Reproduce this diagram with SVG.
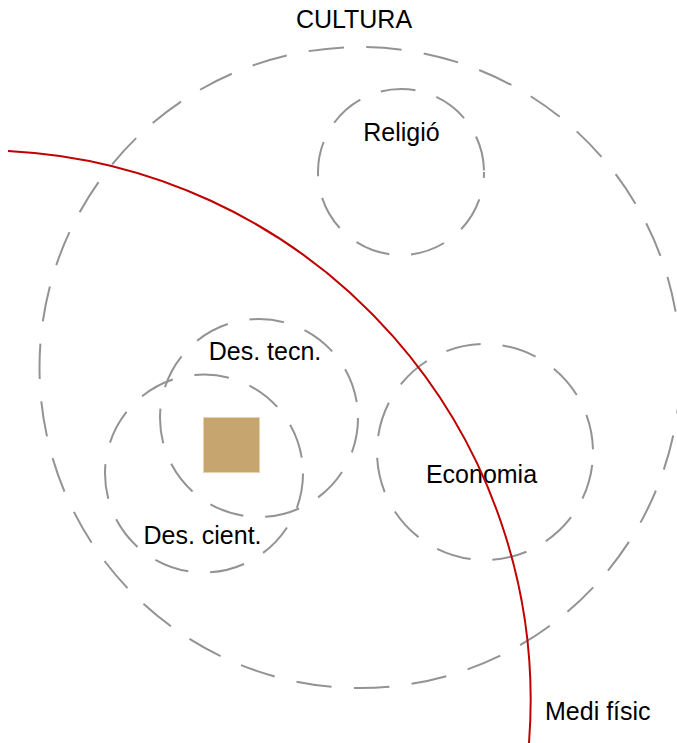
<svg xmlns="http://www.w3.org/2000/svg" width="677" height="743" viewBox="0 0 677 743">
<style>
.dc{fill:none;stroke:#939393;stroke-width:2;stroke-dasharray:35 22}
.lb{font-family:"Liberation Sans",Arial,sans-serif;font-size:25px;fill:#000;text-anchor:middle}
</style>
<rect width="677" height="743" fill="#fff"/>
<g id="cultura">
<circle class="dc" cx="360" cy="367.5" r="320.5" style="stroke-dasharray:35.5 22.4;stroke-dashoffset:47.3"/>
<text class="lb" x="354" y="28">CULTURA</text>
</g>
<g id="religio">
<circle class="dc" cx="401" cy="172" r="83" style="stroke-dashoffset:29"/>
<text class="lb" x="401.5" y="141">Religió</text>
</g>
<g id="economia">
<circle class="dc" cx="485" cy="452" r="108" style="stroke-dashoffset:44"/>
<text class="lb" x="481.5" y="483">Economia</text>
</g>
<g id="des-tecn">
<circle class="dc" cx="259" cy="418" r="99"/>
<text class="lb" x="265" y="360">Des. tecn.</text>
</g>
<g id="des-cient">
<circle class="dc" cx="204" cy="473.5" r="99"/>
<text class="lb" x="202.5" y="544">Des. cient.</text>
</g>
<g id="nucli">
<rect x="203.5" y="417.5" width="56" height="55" fill="#c7a56f" stroke="#e8d3b0" stroke-width="1"/>
</g>
<g id="connectors">
<path d="M 8 151 A 550 550 0 0 1 529 743" fill="none" stroke="#c00000" stroke-width="2"/>
</g>
<g id="medi">
<text class="lb" x="545" y="720" style="text-anchor:start">Medi físic</text>
</g>
</svg>
